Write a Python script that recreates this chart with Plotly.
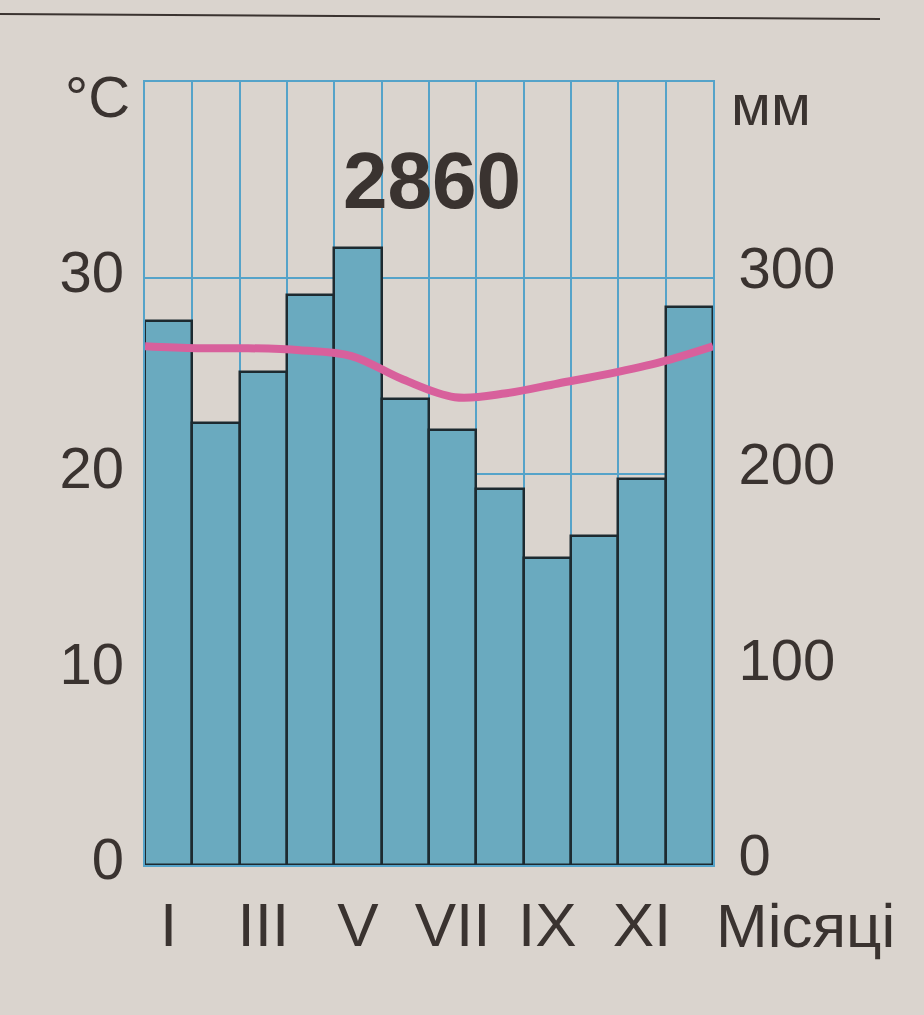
import plotly.graph_objects as go

# ---- data ----
months = list(range(1, 13))
month_tick_vals = [1, 3, 5, 7, 9, 11]
month_tick_text = ["I", "III", "V", "VII", "IX", "XI"]
precip_mm = [278, 226, 252, 291, 315, 238, 222, 192, 157, 168, 197, 285]
temp_c = [26.5, 26.4, 26.4, 26.3, 26.0, 24.8, 23.9, 24.1, 24.6, 25.1, 25.7, 26.5]
annual_total = "2860"
temp_ticks = [0, 10, 20, 30]
mm_ticks = [0, 100, 200, 300]

PAPER = "#dad4ce"
TEXT = "#3a3330"
GRID = "#55a3c9"
BAR = "#6aaabf"
EDGE = "#1d2a30"
PINK = "#d8609c"
FONT = "Liberation Sans, Arial, sans-serif"

# temperature curve is drawn across the full width of the 12 month columns
n = len(temp_c)
temp_x = [0.5 + i * 12 / (n - 1) for i in range(n)]

fig = go.Figure()
fig.add_trace(go.Bar(
    x=months, y=precip_mm, yaxis="y", width=1,
    marker=dict(color=BAR, line=dict(color=EDGE, width=2.5)),
    showlegend=False, hoverinfo="skip",
))
fig.add_trace(go.Scatter(
    x=temp_x, y=temp_c, yaxis="y2", mode="lines",
    line=dict(color=PINK, width=8, shape="spline", smoothing=1.0),
    showlegend=False, hoverinfo="skip", cliponaxis=False,
))

fig.update_layout(
    width=924, height=1015,
    margin=dict(l=145, r=211, t=82, b=150),
    paper_bgcolor=PAPER, plot_bgcolor=PAPER,
    bargap=0,
    font=dict(family=FONT, color=TEXT, size=58),
    xaxis=dict(
        range=[0.5, 12.5], tickvals=month_tick_vals, ticktext=month_tick_text,
        showgrid=False, zeroline=False,
        showline=True, linecolor=GRID, linewidth=2, mirror=True,
        ticks="", ticklabelstandoff=5,
        tickfont=dict(size=62, color=TEXT, family=FONT),
        minor=dict(showgrid=True, tick0=0.5, dtick=1, gridcolor=GRID, gridwidth=2),
    ),
    yaxis=dict(
        range=[0, 400], side="right", tickvals=mm_ticks,
        showgrid=True, gridcolor=GRID, gridwidth=2, zeroline=False,
        showline=True, linecolor=GRID, linewidth=2, mirror=True,
        ticks="", ticklabelstandoff=12, ticklabelshift=-10,
        tickfont=dict(size=58, color=TEXT, family=FONT),
    ),
    yaxis2=dict(
        range=[0, 40], side="left", overlaying="y", tickvals=temp_ticks,
        showgrid=False, zeroline=False, showline=False,
        ticks="", ticklabelstandoff=20, ticklabelshift=-6,
        tickfont=dict(size=58, color=TEXT, family=FONT),
    ),
    annotations=[
        dict(text="°C", xref="paper", yref="paper", x=(97 - 145) / 568, y=(865 - 96) / 783,
             showarrow=False, xanchor="center", yanchor="middle",
             font=dict(size=58, color=TEXT, family=FONT)),
        dict(text="мм", xref="paper", yref="paper", x=(771 - 145) / 568, y=(865 - 104) / 783,
             showarrow=False, xanchor="center", yanchor="middle",
             font=dict(size=58, color=TEXT, family=FONT)),
        dict(text="<b>" + annual_total + "</b>", xref="paper", yref="paper",
             x=(432 - 145) / 568, y=(865 - 181) / 783,
             showarrow=False, xanchor="center", yanchor="middle",
             font=dict(size=80, color=TEXT, family=FONT)),
        dict(text="Місяці", xref="paper", yref="paper", x=(805 - 145) / 568, y=-(889 - 865) / 783,
             showarrow=False, xanchor="center", yanchor="top",
             font=dict(size=62, color=TEXT, family=FONT)),
    ],
    shapes=[
        dict(type="line", xref="paper", yref="paper",
             x0=-145 / 568, x1=(880 - 145) / 568,
             y0=(865 - 14) / 783, y1=(865 - 19) / 783,
             line=dict(color=TEXT, width=2)),
    ],
)

fig.write_html(
    "out.html",
    config={"displayModeBar": False},
    post_script="document.body.style.margin='0';document.body.style.background='%s';" % PAPER,
)
